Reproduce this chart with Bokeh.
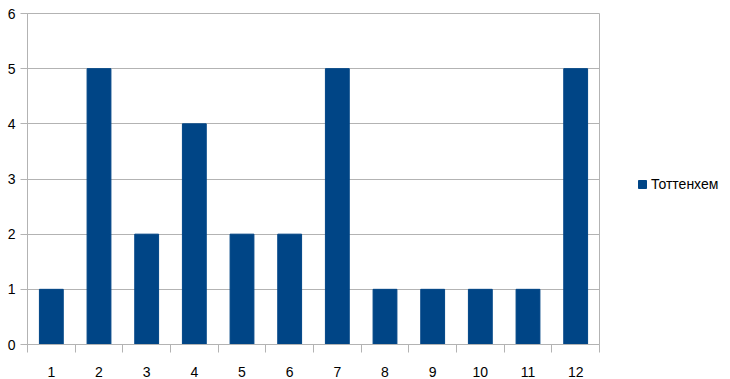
from bokeh.plotting import figure
from bokeh.layouts import row
from bokeh.models import ColumnDataSource, FixedTicker, Legend, LegendItem, Range1d
from bokeh.embed import file_html
from bokeh.resources import INLINE

categories = [str(i) for i in range(1, 13)]
values = [1, 5, 2, 4, 2, 2, 5, 1, 1, 1, 1, 5]
series_name = "Тоттенхем"
y_ticks = [0, 1, 2, 3, 4, 5, 6]
bar_color = "#004586"

xs = list(range(1, len(categories) + 1))
source = ColumnDataSource(dict(x=xs, top=values))

p = figure(width=600, height=379, output_backend="svg", toolbar_location=None,
           x_range=Range1d(0.5, len(categories) + 0.5), y_range=Range1d(0, 6),
           min_border_left=27, min_border_top=13, min_border_bottom=35, min_border_right=1)
p.outline_line_color = "#b3b3b3"
p.background_fill_color = "white"
p.border_fill_color = "white"

p.vbar(x="x", top="top", width=0.5, bottom=0, source=source, color=bar_color)

p.xaxis.ticker = FixedTicker(ticks=xs, minor_ticks=[x + 0.5 for x in range(0, len(categories) + 1)])
p.xaxis.major_label_overrides = {x: c for x, c in zip(xs, categories)}
p.xaxis.major_tick_line_color = None
p.xaxis.minor_tick_line_color = "#b3b3b3"
p.xaxis.minor_tick_out = 8
p.xaxis.minor_tick_in = 0
p.xaxis.major_label_standoff = 14
p.xgrid.visible = False

p.yaxis.ticker = FixedTicker(ticks=y_ticks)
p.yaxis.major_tick_out = 7
p.yaxis.major_tick_in = 0
p.yaxis.minor_tick_line_color = None
p.yaxis.major_tick_line_color = "#b3b3b3"
p.yaxis.major_label_standoff = 5
p.ygrid.grid_line_color = "#b3b3b3"

for ax in (p.xaxis, p.yaxis):
    ax.axis_line_color = "#b3b3b3"
    ax.major_label_text_font = "Liberation Sans"
    ax.major_label_text_font_size = "14px"
    ax.major_label_text_color = "#000000"

# legend panel (separate small figure to the right of the chart)
lp = figure(width=130, height=379, output_backend="svg", toolbar_location=None,
            x_range=Range1d(0, 1), y_range=Range1d(0, 1),
            x_axis_location=None, y_axis_location=None,
            min_border_left=0, min_border_right=0, min_border_top=0, min_border_bottom=0)
lp.outline_line_color = None
lp.xgrid.visible = False
lp.ygrid.visible = False
# legend-only renderer, positioned outside the visible range
lr = lp.vbar(x=[10], top=[10], bottom=[9], width=0.5, color=bar_color)

legend = Legend(items=[LegendItem(label=series_name, renderers=[lr])],
                location=(37, 152), label_text_font="Liberation Sans",
                label_text_font_size="14px", label_text_color="#000000",
                glyph_width=10, glyph_height=10, label_standoff=4,
                border_line_color=None, background_fill_alpha=0,
                margin=0, padding=0)
lp.add_layout(legend, "center")

layout = row(p, lp)
open("out.html", "w").write(file_html(layout, INLINE))
